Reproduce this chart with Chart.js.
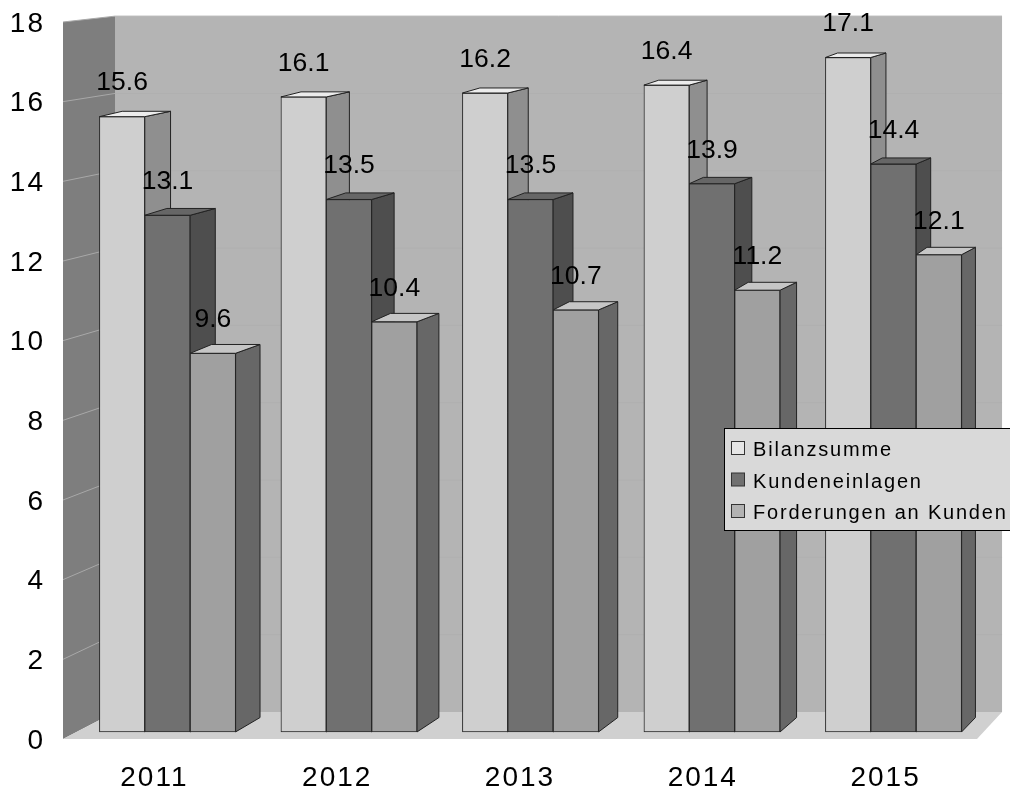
<!DOCTYPE html>
<html>
<head>
<meta charset="utf-8">
<style>
  html, body { margin: 0; padding: 0; background: #fff; }
  canvas { display: block; }
</style>
<script src="https://cdn.jsdelivr.net/npm/chart.js@4/dist/chart.umd.min.js"></script>
</head>
<body>
<canvas id="grafico" width="1010" height="790"></canvas>
<script>
const jahre = ['2011', '2012', '2013', '2014', '2015'];
const bilanzsumme = [15.6, 16.1, 16.2, 16.4, 17.1];
const kundeneinlagen = [13.1, 13.5, 13.5, 13.9, 14.4];
const forderungen = [9.6, 10.4, 10.7, 11.2, 12.1];
const reihenNamen = ['Bilanzsumme', 'Kundeneinlagen', 'Forderungen an Kunden'];
const yTicks = [0, 2, 4, 6, 8, 10, 12, 14, 16, 18];

const FONT = '"Liberation Sans", Arial, sans-serif';
const vorne = ['#cfcfcf', '#707070', '#a0a0a0'];
const seite = ['#8f8f8f', '#4e4e4e', '#676767'];
const oben = ['#ececec', '#666666', '#c6c6c6'];
const legendeFarben = ['#e6e6e6', '#707070', '#b2b2b2'];

// perspective of the 3D box and of the bars
const wand = { k: 0.0295, vx: 1826, vy: -177 };
const saeule = { k: 0.0146, vx: 1908, vy: -250 };

function punkt(p, x, y) {
  return [x + p.k * (p.vx - x), y - p.k * (y - p.vy)];
}

function poly(ctx, pts, fill, stroke) {
  ctx.beginPath();
  pts.forEach((p, i) => i ? ctx.lineTo(p[0], p[1]) : ctx.moveTo(p[0], p[1]));
  ctx.closePath();
  ctx.fillStyle = fill;
  ctx.fill();
  if (stroke) {
    ctx.strokeStyle = stroke;
    ctx.lineWidth = 1;
    ctx.stroke();
  }
}

const box3d = {
  id: 'box3d',
  beforeDraw(chart) {
    chart.ctx.letterSpacing = '2px';
  },
  beforeDatasetsDraw(chart) {
    const ctx = chart.ctx;
    const a = chart.chartArea;
    const yScale = chart.scales.y;
    const tl = punkt(wand, a.left, a.top), bl = punkt(wand, a.left, a.bottom);
    const tr = punkt(wand, a.right, a.top), br = punkt(wand, a.right, a.bottom);
    ctx.save();
    poly(ctx, [tl, tr, br, bl], '#b4b4b4');
    poly(ctx, [[a.left, a.top], tl, bl, [a.left, a.bottom]], '#7e7e7e');
    poly(ctx, [[a.left, a.bottom], [a.right, a.bottom], br, bl], '#d0d0d0');
    yTicks.forEach(v => {
      if (v === 0) return;
      const y = yScale.getPixelForValue(v);
      const hinten = punkt(wand, a.left, y);
      ctx.beginPath();
      ctx.moveTo(a.left, y);
      ctx.lineTo(hinten[0], hinten[1]);
      ctx.strokeStyle = '#a8a8a8';
      ctx.lineWidth = 1;
      ctx.stroke();
      ctx.beginPath();
      ctx.moveTo(hinten[0], hinten[1]);
      ctx.lineTo(tr[0], hinten[1]);
      ctx.strokeStyle = '#b0b0b0';
      ctx.stroke();
    });
    ctx.restore();
  },
  // the library paints the last dataset first, here the left bar has to go first
  beforeDatasetDraw() {
    return false;
  },
  afterDatasetsDraw(chart) {
    const ctx = chart.ctx;
    ctx.save();
    chart.data.datasets.forEach((ds, i) => {
      const meta = chart.getDatasetMeta(i);
      meta.controller.draw();
      meta.data.forEach(bar => {
        const x0 = bar.x - bar.width / 2, x1 = bar.x + bar.width / 2;
        const rechtsOben = punkt(saeule, x1, bar.y);
        const rechtsUnten = punkt(saeule, x1, bar.base);
        const linksOben = [rechtsOben[0] - bar.width - 3, rechtsOben[1]];
        poly(ctx, [[x1, bar.y], rechtsOben, rechtsUnten, [x1, bar.base]], seite[i], '#222');
        poly(ctx, [[x0, bar.y], linksOben, rechtsOben, [x1, bar.y]], oben[i], '#222');
      });
    });
    // value labels
    ctx.letterSpacing = '0px';
    ctx.font = '26.5px ' + FONT;
    ctx.fillStyle = '#000';
    ctx.textAlign = 'center';
    ctx.textBaseline = 'middle';
    chart.data.datasets.forEach((ds, i) => {
      chart.getDatasetMeta(i).data.forEach((bar, j) => {
        ctx.fillText(ds.data[j].y.toFixed(1), bar.x, bar.y - 33.5);
      });
    });
    // legend box
    ctx.fillStyle = '#d9d9d9';
    ctx.fillRect(724.5, 428.5, 290, 102);
    ctx.strokeStyle = '#000';
    ctx.lineWidth = 1;
    ctx.strokeRect(724.5, 428.5, 290, 102);
    ctx.font = '20px ' + FONT;
    ctx.letterSpacing = '1.8px';
    ctx.textAlign = 'left';
    ctx.textBaseline = 'alphabetic';
    reihenNamen.forEach((name, i) => {
      const y = 441 + i * 31.5;
      ctx.fillStyle = legendeFarben[i];
      ctx.fillRect(731.5, y + 0.5, 13, 13);
      ctx.strokeStyle = '#333';
      ctx.strokeRect(731.5, y + 0.5, 13, 13);
      ctx.fillStyle = '#000';
      ctx.fillText(name, 753, y + 15);
    });
    ctx.restore();
  }
};

const reihen = [bilanzsumme, kundeneinlagen, forderungen];

new Chart(document.getElementById('grafico').getContext('2d'), {
  type: 'bar',
  data: {
    labels: jahre,
    datasets: reihen.map((werte, i) => ({
      label: reihenNamen[i],
      data: werte.map((v, j) => ({ x: j, y: v })),
      backgroundColor: vorne[i],
      borderColor: '#2a2a2a',
      borderWidth: 1,
      borderSkipped: false,
      xAxisID: 'xBars',
      yAxisID: 'yBars',
      barThickness: 45.4,
      clip: false
    }))
  },
  options: {
    responsive: false,
    animation: false,
    layout: { padding: { top: 22, right: 33, left: 0, bottom: 0 } },
    plugins: { legend: { display: false }, tooltip: { enabled: false } },
    scales: {
      x: {
        type: 'category',
        grid: { display: false },
        border: { display: false },
        afterFit(s) { s.height = 51; },
        ticks: { color: '#000', padding: 14, maxRotation: 0, font: { family: FONT, size: 28 } }
      },
      y: {
        type: 'linear',
        min: 0,
        max: 18,
        grid: { display: false },
        border: { display: false },
        afterFit(s) { s.width = 63; s.paddingTop = 0; s.paddingBottom = 0; },
        afterBuildTicks(s) { s.ticks = yTicks.map(v => ({ value: v })); },
        ticks: { color: '#000', padding: 10, labelOffset: 2, font: { family: FONT, size: 28 } }
      },
      // bars sit on their own plane a little behind the front of the box
      xBars: { type: 'linear', display: false, offset: false, min: -0.5758, max: 4.46 },
      yBars: { type: 'linear', display: false, min: -0.18, max: 18 }
    }
  },
  plugins: [box3d]
});
</script>
</body>
</html>
